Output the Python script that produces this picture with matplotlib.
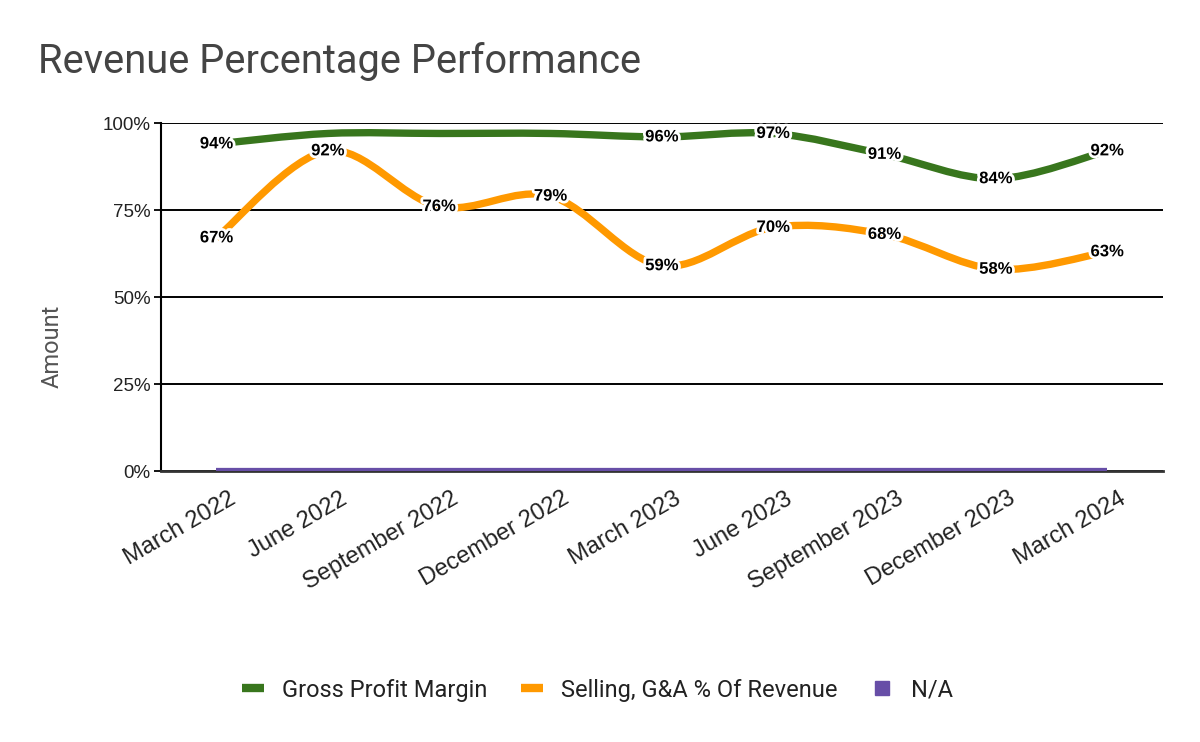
import matplotlib
matplotlib.use("Agg")
import matplotlib.pyplot as plt
import matplotlib.patheffects as pe
import matplotlib.transforms as mtransforms
from matplotlib.path import Path
from matplotlib.patches import PathPatch
from matplotlib.lines import Line2D
import numpy as np

categories = ["March 2022", "June 2022", "September 2022", "December 2022",
              "March 2023", "June 2023", "September 2023", "December 2023", "March 2024"]
gross_profit_margin = [94, 97, 97, 97, 96, 97, 91, 84, 92]
sga_pct_revenue = [67, 92, 76, 79, 59, 70, 68, 58, 63]
na_series = [0, 0, 0, 0, 0, 0, 0, 0, 0]
gpm_labeled = [True, False, False, False, True, True, True, True, True]
yticks = [0, 25, 50, 75, 100]
ytick_labels = ["0%", "25%", "50%", "75%", "100%"]

GREEN = "#38761d"
ORANGE = "#ff9900"
PURPLE = "#674ea7"

fig = plt.figure(figsize=(12, 7.42), dpi=100)
ax = fig.add_axes([0.134, 0.3652, 0.835, 0.469])


def smooth_path(xs, ys):
    pts = np.column_stack([xs, ys]).astype(float)
    n = len(pts)
    verts = [pts[0]]
    codes = [Path.MOVETO]
    for i in range(n - 1):
        p0 = pts[i - 1] if i > 0 else pts[i]
        p1 = pts[i]
        p2 = pts[i + 1]
        p3 = pts[i + 2] if i + 2 < n else pts[i + 1]
        c1 = p1 + (p2 - p0) / 6.0
        c2 = p2 - (p3 - p1) / 6.0
        verts += [c1, c2, p2]
        codes += [Path.CURVE4] * 3
    return Path(verts, codes)


x = np.arange(len(categories))

for vals, color in [(gross_profit_margin, GREEN), (sga_pct_revenue, ORANGE)]:
    patch = PathPatch(smooth_path(x, vals), facecolor="none", edgecolor=color,
                      lw=5.3, capstyle="butt", zorder=3)
    ax.add_patch(patch)

ax.plot(x, na_series, color=PURPLE, lw=4.5, solid_capstyle="butt", zorder=3)

halo = [pe.withStroke(linewidth=4, foreground="white")]
for xi, v, show in zip(x, gross_profit_margin, gpm_labeled):
    if show:
        ax.text(xi, v, f"{v}%", ha="center", va="center", fontsize=12,
                fontweight="bold", family="Liberation Sans", color="black",
                path_effects=halo, zorder=5)
for xi, v in zip(x, sga_pct_revenue):
    ax.text(xi, v, f"{v}%", ha="center", va="center", fontsize=12,
            fontweight="bold", family="Liberation Sans", color="black",
            path_effects=halo, zorder=5)

ax.set_xlim(-0.5, len(categories) - 0.5)
ax.set_ylim(0, 100)
ax.set_yticks(yticks)
ax.set_yticklabels(ytick_labels, family="Liberation Sans", fontsize=13.5, color="#222222")
ax.grid(axis="y", color="black", lw=1.4, zorder=1)
ax.set_axisbelow(True)
ax.set_xticks(x)
ax.set_xticklabels(categories, rotation=30, ha="right", va="top", rotation_mode="anchor",
                   family="Liberation Sans", fontsize=17, color="#222222")
ax.tick_params(axis="x", length=0, pad=12)
ax.tick_params(axis="y", length=5, width=1.3, color="black", pad=2.5)
offset = mtransforms.ScaledTranslation(12 / 100, 0, fig.dpi_scale_trans)
for lab in ax.get_xticklabels():
    lab.set_transform(lab.get_transform() + offset)
for s in ["top", "right"]:
    ax.spines[s].set_visible(False)
ax.spines["left"].set_color("black")
ax.spines["left"].set_linewidth(1.5)
ax.spines["bottom"].set_color("#333333")
ax.spines["bottom"].set_linewidth(2)

fig.text(52 / 1200, 1 - 346 / 742, "Amount", family="Roboto", fontsize=17,
         color="#555555", rotation=90, ha="center", va="center")

fig.text(0.032, 0.917, "Revenue Percentage Performance", family="Roboto",
         fontsize=28.7, color="#444444", ha="left", va="center")

handles = [
    Line2D([0], [0], color=GREEN, lw=6, solid_capstyle="butt"),
    Line2D([0], [0], color=ORANGE, lw=6, solid_capstyle="butt"),
    Line2D([0], [0], color=PURPLE, lw=0, marker="s", markersize=10.5),
]
labels = ["Gross Profit Margin", "Selling, G&A % Of Revenue", "N/A"]
fig.legend(handles, labels, loc="center", bbox_to_anchor=(0.498, 0.07), ncol=3,
           frameon=False, prop={"family": "Roboto", "size": 17},
           handlelength=0.94, handletextpad=0.77, columnspacing=1.4,
           labelcolor="#222222")

fig.savefig("out.png", dpi=100)
